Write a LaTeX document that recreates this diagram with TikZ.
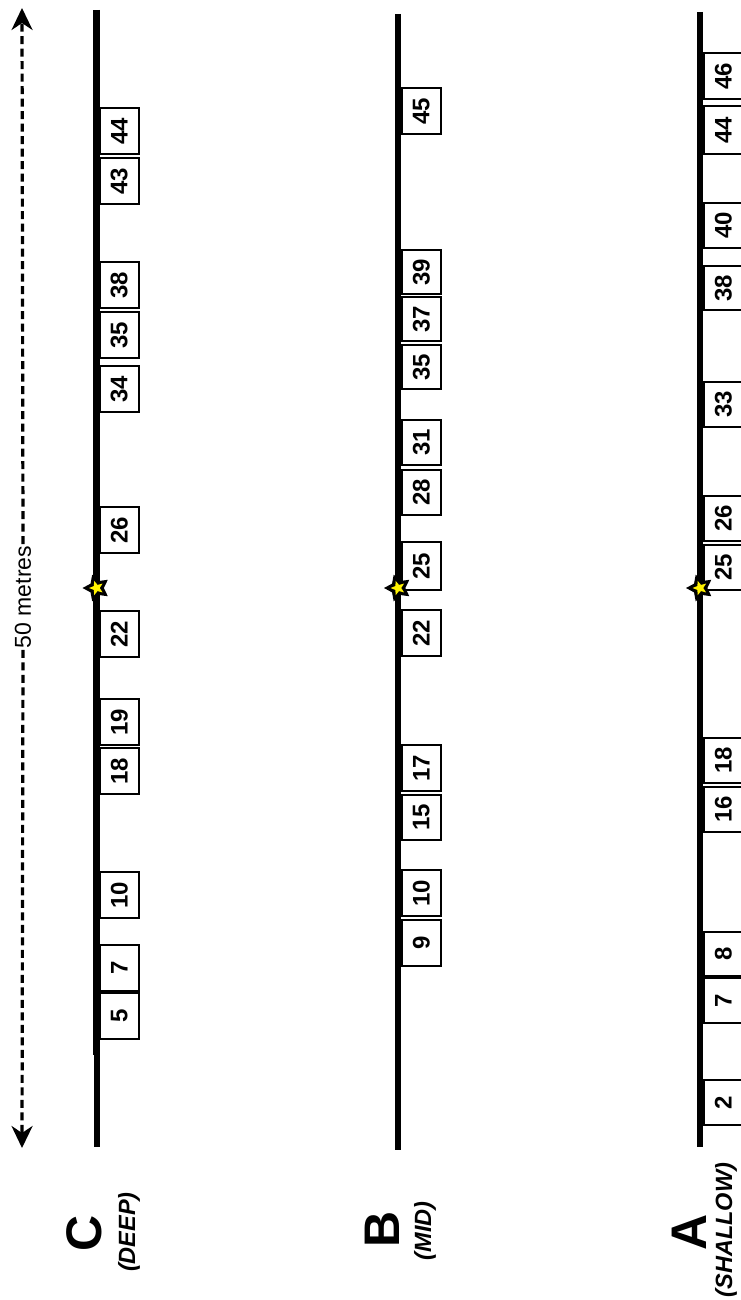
\documentclass[tikz,border=0pt]{standalone}
\usepackage{fontspec}
\setmainfont{Liberation Sans}
\usetikzlibrary{arrows.meta,shapes.geometric}
\tikzset{
  transect/.style={line width=6.5pt, line cap=butt},
  qbox/.style={draw, line width=1.5pt, rotate=90, minimum height=39pt, inner sep=0pt,
    font=\bfseries\fontsize{24}{24}\selectfont},
  bigletter/.style={rotate=90, anchor=base, inner sep=0pt, font=\bfseries\fontsize{50}{50}\selectfont},
  sublabel/.style={rotate=90, anchor=base, inner sep=0pt, font=\bfseries\itshape\fontsize{23.5}{24}\selectfont},
  starb/.style={star, star points=5, star point ratio=1.9, shape border rotate=90, fill=black, minimum size=28pt, inner sep=0pt},
  stary/.style={star, star points=5, star point ratio=2.3, shape border rotate=90, fill=yellow, minimum size=15pt, inner sep=0pt},
  metres/.style={rotate=90, inner sep=1.5pt, font=\fontsize{23}{24}\selectfont},
  dasharrow/.style={dash pattern=on 8pt off 4.5pt, line width=3.2pt, -{Stealth[length=22pt,width=21pt,inset=7pt]}}
}
% \qb{name}{xleft}{ytop}{ybottom}{label}
\newcommand{\qb}[5]{%
  \pgfmathsetmacro{\qh}{#4-#3}%
  \pgfmathsetmacro{\qc}{(#3+#4)/2}%
  \node[qbox, minimum width=\qh pt, anchor=north] (#1) at (#2,\qc) {#5};}
\begin{document}
\begin{tikzpicture}[x=1pt,y=-1pt]
\useasboundingbox (0,0) rectangle (740,1300);
% transects
\coordinate (Ctop) at (96.5,10);
\coordinate (Cj1) at (96.5,1055);
\coordinate (Cj2) at (97,1055);
\coordinate (Cj3) at (97,1078);
\coordinate (Cbot) at (97,1147);
\coordinate (Btop) at (398,14);
\coordinate (Bbot) at (398,1150);
\coordinate (Atop) at (700,12);
\coordinate (Abot) at (700,1147);
\draw[transect] (Ctop) -- (Cj1);
\draw[line width=5.5pt] (Cj2) -- (Cj3);
\draw[transect] (Cj3) -- (Cbot);
\draw[transect] (Btop) -- (Bbot);
\draw[transect] (Atop) -- (Abot);
% scale arrow
\node[metres] (m) at (23,597) {50 metres};
\coordinate (arrtop) at (22,8);
\coordinate (arrbot) at (22,1148);
\draw[dasharrow] (m.east) -- (arrtop);
\draw[dasharrow] (m.west) -- (arrbot);
% C boxes
\qb{c44}{99}{108}{154}{44}
\qb{c43}{99}{158}{204}{43}
\qb{c38}{99}{262}{308}{38}
\qb{c35}{99}{312}{358}{35}
\qb{c34}{99}{366}{412}{34}
\qb{c26}{99}{507}{553}{26}
\qb{c22}{99}{611}{657}{22}
\qb{c19}{99}{699}{745}{19}
\qb{c18}{99}{748}{794}{18}
\qb{c10}{99}{872}{918}{10}
\qb{c7}{99}{945}{991}{7}
\qb{c5}{99}{993}{1039}{5}
% B boxes
\qb{b45}{401}{88}{134}{45}
\qb{b39}{401}{250}{294}{39}
\qb{b37}{401}{297}{341}{37}
\qb{b35}{401}{345}{389}{35}
\qb{b31}{401}{420}{465}{31}
\qb{b28}{401}{470}{515}{28}
\qb{b25}{401}{542}{590}{25}
\qb{b22}{401}{610}{656}{22}
\qb{b17}{401}{745}{791}{17}
\qb{b15}{401}{795}{840}{15}
\qb{b10}{401}{870}{916}{10}
\qb{b9}{401}{920}{966}{9}
% A boxes
\qb{a46}{703}{53}{99}{46}
\qb{a44}{703}{106}{154}{44}
\qb{a40}{703}{203}{248}{40}
\qb{a38}{703}{266}{310}{38}
\qb{a33}{703}{382}{427}{33}
\qb{a26}{703}{496}{541}{26}
\qb{a25}{703}{545}{590}{25}
\qb{a18}{703}{738}{783}{18}
\qb{a16}{703}{787}{832}{16}
\qb{a8}{703}{932}{976}{8}
\qb{a7}{703}{978}{1023}{7}
\qb{a2}{703}{1080}{1125}{2}
% stars
\node[starb] (sC) at (96.5,588) {};
\node[stary] (sCy) at (96.5,588) {};
\node[starb] (sB) at (398,588) {};
\node[stary] (sBy) at (398,588) {};
\node[starb] (sA) at (700,588) {};
\node[stary] (sAy) at (700,588) {};
% labels
\node[bigletter] (lC) at (101,1233) {C};
\node[sublabel] (lCs) at (135,1232) {(DEEP)};
\node[bigletter] (lB) at (399,1229) {B};
\node[sublabel] (lBs) at (431,1231) {(MID)};
\node[bigletter] (lA) at (706,1232) {A};
\node[sublabel] (lAs) at (732,1230) {(SHALLOW)};
\end{tikzpicture}
\end{document}
